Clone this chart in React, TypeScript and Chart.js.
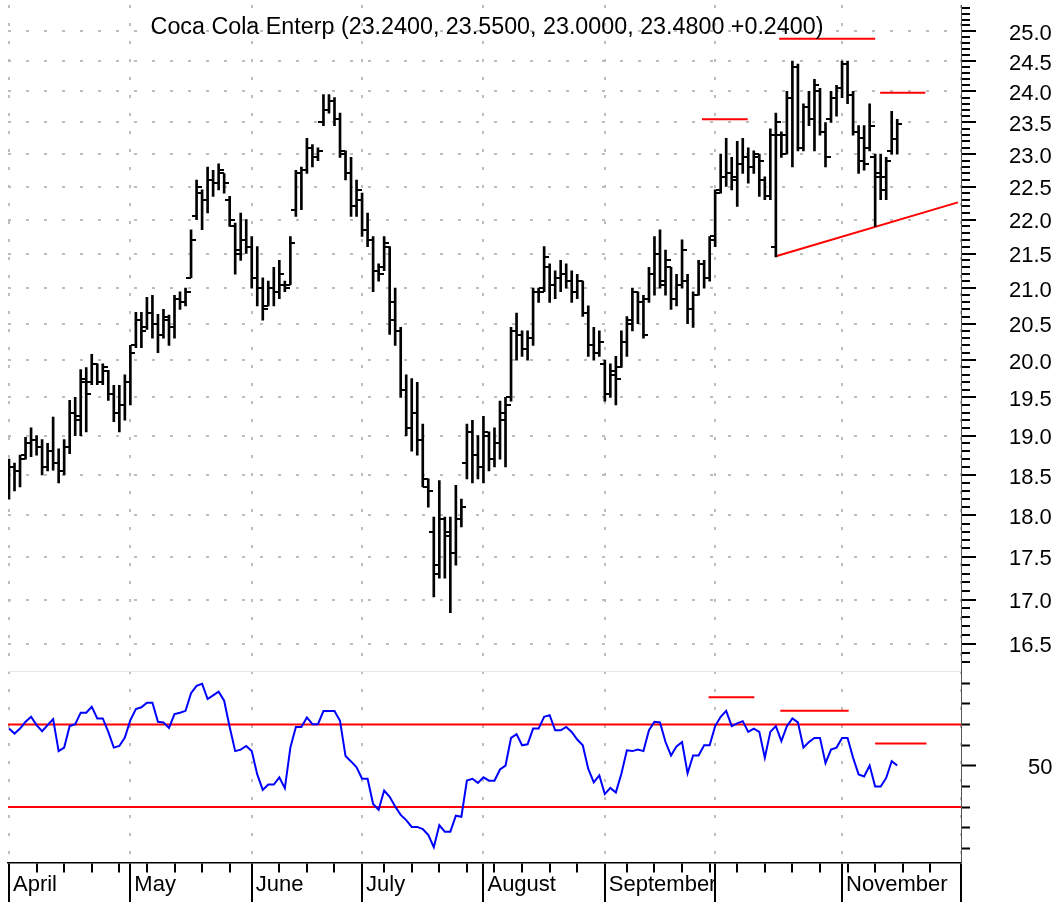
import React, { useEffect, useRef } from 'react';
import { Chart, registerables } from 'chart.js';

Chart.register(...registerables);

// ---------- data ----------
const titleName = 'Coca Cola Enterp';

// trading-day index of the first session of each month (Apr..Nov 2002)
const monthStarts = [0, 22, 44, 64, 86, 108, 128, 151];
const monthLabels = ['April', 'May', 'June', 'July', 'August', 'September', '', 'November'];
// first session of each week
const weekStarts = [5, 10, 15, 20, 25, 30, 35, 40, 49, 54, 59, 68, 73, 78, 83, 88, 93, 98, 103, 112, 117, 122, 127, 132, 137, 142, 147, 152, 157, 162, 167];

const opens = [
  18.30, 18.60, 18.55, 18.75, 18.90, 18.95, 18.85, 18.60, 18.80, 18.65,
  18.55, 18.85, 19.30, 19.20, 19.70, 19.70, 19.95, 19.70, 19.85, 19.55,
  19.30, 19.40, 19.70, 20.20, 20.55, 20.45, 20.65, 20.50, 20.35, 20.55,
  20.45, 20.85, 20.80, 21.15, 22.05, 22.40, 22.30, 22.60, 22.55, 22.70,
  22.30, 21.90, 21.50, 21.70, 21.60, 21.15, 21.00, 20.75, 21.00, 20.95,
  21.05, 21.05, 22.15, 22.70, 22.75, 23.10, 22.95, 23.50, 23.70, 23.85,
  23.55, 23.00, 22.70, 22.20, 22.30, 21.85, 21.70, 21.25, 21.30, 21.60,
  20.80, 20.40, 19.60, 19.10, 19.30, 18.95, 18.35, 17.80, 17.40, 17.95,
  17.80, 17.55, 17.95, 18.65, 19.05, 18.75, 18.60, 19.00, 18.70, 18.90,
  19.20, 19.50, 20.40, 20.35, 20.15, 20.30, 20.95, 21.00, 21.30, 21.05,
  21.15, 21.20, 21.10, 20.95, 21.10, 20.65, 20.20, 20.10, 19.95, 19.55,
  19.80, 19.90, 20.25, 20.55, 20.95, 20.80, 20.85, 21.20, 21.50, 21.10,
  21.30, 20.85, 21.05, 21.10, 20.70, 20.90, 21.35, 21.15, 21.75, 22.45,
  22.65, 22.70, 22.60, 22.85, 22.95, 22.80, 22.95, 22.60, 22.35, 21.60,
  23.30, 23.30, 23.90, 24.40, 23.10, 23.75, 23.55, 24.00, 23.35, 23.55,
  23.90, 24.05, 24.45, 23.95, 23.35, 23.25, 23.10, 22.95, 22.70, 22.45,
  23.05, 23.24,
];
const highs = [
  18.70, 18.65, 18.75, 18.98, 19.10, 19.00, 18.95, 18.90, 19.24, 18.83,
  18.95, 19.46, 19.50, 19.87, 19.90, 20.08, 19.95, 19.95, 19.86, 19.66,
  19.66, 19.80, 20.20, 20.66, 20.66, 20.87, 20.90, 20.63, 20.70, 20.62,
  20.90, 20.95, 21.00, 21.85, 22.60, 22.45, 22.80, 22.75, 22.85, 22.70,
  22.35, 21.95, 22.10, 22.00, 21.75, 21.60, 21.15, 21.10, 21.30, 21.40,
  21.10, 21.75, 22.75, 22.80, 23.25, 23.15, 23.10, 23.95, 23.95, 23.90,
  23.65, 23.05, 22.95, 22.60, 22.40, 22.10, 21.75, 21.35, 21.75, 21.60,
  21.00, 20.45, 19.80, 19.75, 19.70, 19.15, 18.45, 17.98, 18.43, 17.98,
  17.98, 18.37, 18.20, 19.15, 19.20, 19.00, 19.25, 19.05, 19.10, 19.45,
  19.50, 20.45, 20.65, 20.40, 20.40, 21.00, 21.00, 21.60, 21.35, 21.25,
  21.40, 21.35, 21.25, 21.20, 21.10, 20.75, 20.45, 20.40, 20.00, 19.95,
  20.05, 20.40, 20.60, 21.00, 20.95, 20.90, 21.30, 21.75, 21.85, 21.55,
  21.30, 21.20, 21.70, 21.20, 20.95, 21.40, 21.40, 21.75, 22.45, 23.00,
  23.25, 22.95, 23.20, 23.25, 23.10, 23.05, 23.00, 22.65, 23.40, 23.65,
  23.35, 24.00, 24.50, 24.45, 23.80, 24.00, 24.20, 24.05, 23.50, 24.00,
  24.10, 24.50, 24.50, 24.00, 23.45, 23.45, 23.80, 23.00, 23.00, 22.95,
  23.68, 23.55,
];
const lows = [
  18.20, 18.30, 18.35, 18.70, 18.73, 18.75, 18.50, 18.55, 18.56, 18.40,
  18.50, 18.77, 19.00, 19.00, 19.05, 19.67, 19.67, 19.67, 19.46, 19.18,
  19.05, 19.20, 19.40, 20.17, 20.17, 20.42, 20.30, 20.10, 20.30, 20.20,
  20.30, 20.70, 20.75, 21.15, 22.00, 21.85, 22.10, 22.35, 22.45, 22.40,
  21.90, 21.20, 21.40, 21.50, 21.00, 20.75, 20.55, 20.75, 20.75, 20.85,
  20.95, 21.05, 22.05, 22.15, 22.70, 22.80, 22.90, 23.45, 23.65, 23.45,
  22.95, 22.60, 22.05, 22.05, 21.75, 21.60, 20.95, 21.10, 21.25, 20.35,
  20.20, 19.50, 19.00, 18.80, 18.75, 18.35, 18.10, 17.03, 17.25, 17.25,
  16.85, 17.40, 17.86, 18.45, 18.40, 18.45, 18.40, 18.55, 18.60, 18.70,
  18.60, 19.45, 20.00, 20.05, 20.00, 20.20, 20.80, 20.95, 20.80, 20.85,
  20.95, 21.00, 20.80, 20.85, 20.60, 20.05, 20.00, 20.05, 19.45, 19.50,
  19.40, 19.90, 20.05, 20.40, 20.50, 20.30, 20.80, 20.90, 21.00, 20.90,
  20.70, 20.75, 21.00, 20.50, 20.45, 20.90, 21.00, 21.10, 21.60, 22.40,
  22.50, 22.45, 22.20, 22.70, 22.55, 22.70, 22.35, 22.30, 22.30, 21.45,
  22.95, 23.00, 22.80, 23.05, 23.05, 23.45, 23.05, 23.30, 22.80, 23.50,
  23.60, 23.90, 23.80, 23.30, 22.70, 22.75, 23.05, 21.90, 22.30, 22.30,
  23.00, 23.00,
];
const closes = [
  18.60, 18.55, 18.70, 18.90, 18.95, 18.85, 18.60, 18.80, 18.65, 18.55,
  18.85, 19.30, 19.25, 19.75, 19.55, 19.95, 19.70, 19.90, 19.55, 19.30,
  19.40, 19.70, 20.10, 20.55, 20.40, 20.65, 20.50, 20.35, 20.60, 20.45,
  20.85, 20.80, 20.95, 21.70, 22.50, 22.30, 22.60, 22.55, 22.75, 22.55,
  22.00, 21.55, 21.70, 21.60, 21.15, 21.00, 20.70, 21.00, 20.95, 21.20,
  21.00, 21.65, 22.70, 22.75, 23.10, 22.95, 23.05, 23.70, 23.85, 23.55,
  23.05, 22.70, 22.20, 22.45, 21.85, 21.70, 21.25, 21.20, 21.65, 20.55,
  20.40, 19.60, 19.10, 19.30, 18.95, 18.45, 18.30, 17.30, 17.95, 17.75,
  17.55, 17.95, 18.10, 19.05, 18.75, 18.60, 19.05, 18.70, 18.90, 19.30,
  19.40, 20.40, 20.35, 20.15, 20.30, 20.95, 20.95, 21.45, 21.05, 21.15,
  21.20, 21.10, 20.95, 21.10, 20.65, 20.20, 20.10, 20.25, 19.55, 19.85,
  19.75, 20.25, 20.50, 20.95, 20.80, 20.35, 21.20, 21.50, 21.05, 21.40,
  20.85, 21.05, 21.55, 20.70, 20.90, 21.35, 21.15, 21.70, 22.40, 22.65,
  22.70, 22.65, 22.85, 22.95, 22.80, 23.00, 22.90, 22.35, 23.30, 23.50,
  23.00, 23.90, 24.40, 23.10, 23.75, 23.55, 24.10, 23.35, 22.95, 23.90,
  24.05, 24.45, 23.95, 23.35, 22.90, 22.85, 23.45, 22.65, 22.65, 22.90,
  23.24, 23.48,
];
const rsiValues = [
  68.0, 65.6, 68.0, 71.3, 73.7, 69.7, 66.7, 69.7, 72.6, 57.1,
  58.8, 69.2, 70.1, 75.7, 75.7, 78.6, 72.9, 72.9, 66.4, 58.8,
  59.6, 63.7, 72.1, 77.5, 78.3, 80.5, 80.5, 71.3, 71.0, 68.3,
  75.0, 75.7, 76.6, 85.1, 88.7, 89.7, 82.3, 84.1, 85.9, 81.5,
  68.8, 57.1, 57.8, 59.6, 57.1, 45.8, 38.3, 40.9, 40.9, 44.4,
  39.1, 58.8, 68.8, 68.8, 73.4, 70.1, 70.1, 76.5, 76.5, 76.5,
  71.8, 54.7, 52.1, 49.3, 43.7, 43.7, 31.5, 28.7, 38.0, 35.0,
  30.3, 26.2, 23.7, 20.4, 20.4, 19.3, 16.5, 10.6, 21.2, 18.1,
  18.1, 25.8, 25.3, 42.8, 43.7, 41.7, 44.4, 42.8, 42.8, 48.2,
  50.1, 63.5, 65.3, 59.9, 60.4, 68.0, 68.0, 73.7, 74.5, 67.2,
  67.2, 68.8, 66.4, 62.7, 59.9, 48.5, 42.0, 45.3, 36.3, 39.3,
  37.1, 46.1, 57.5, 57.1, 57.8, 57.1, 67.2, 71.3, 71.0, 61.5,
  55.0, 59.4, 61.5, 46.4, 55.0, 55.0, 59.9, 59.9, 69.2, 73.7,
  76.6, 69.2, 70.5, 71.6, 66.4, 68.0, 66.4, 53.9, 66.4, 69.2,
  61.9, 69.2, 72.9, 71.0, 58.8, 61.5, 63.5, 63.5, 51.3, 57.8,
  58.8, 63.5, 63.5, 53.9, 45.8, 44.8, 50.1, 39.9, 39.9, 44.1,
  52.2, 50.1,
];
const rsiBands = [70, 30];

// hand-drawn study lines (index, value)
const priceLevels = [
  { from: 125.6, to: 133.9, value: 23.55 },
  { from: 139.6, to: 157.0, value: 24.875 },
  { from: 157.9, to: 166.1, value: 23.98 },
];
const priceTrend = [
  { x: 139.0, y: 21.46 },
  { x: 172.0, y: 22.26 },
];
const rsiLevels = [
  { from: 126.8, to: 135.1, value: 83.2 },
  { from: 139.8, to: 152.2, value: 76.6 },
  { from: 157.0, to: 166.3, value: 60.8 },
];

// axis extents
const xMin = -0.18;
const xMax = 172.56;
const priceMin = 16.193;
const priceMax = 25.45;
const rsiMin = 2.91;
const rsiMax = 95.78;
const rsiTickValues = [10, 20, 30, 40, 50, 60, 70, 80, 90];
const rsiLabelled = [50];

// ---------- helpers ----------
const FONT = '"Liberation Sans", Arial, Helvetica, sans-serif';
const GRID = '#bdbdbd';

function near(a: number, b: number) {
  return Math.abs(a - b) < 1e-6;
}
function isMajorPrice(v: number) {
  return Math.abs(v * 2 - Math.round(v * 2)) < 1e-6 && v >= 16.49 && v <= 25.01;
}
function tickImage(side: 'left' | 'right') {
  const c = document.createElement('canvas');
  c.width = 10;
  c.height = 2;
  const g = c.getContext('2d')!;
  g.fillStyle = '#000';
  if (side === 'left') g.fillRect(0, 0, 5, 2);
  else g.fillRect(5, 0, 5, 2);
  return c;
}
function noPad(s: any) {
  s.paddingTop = 0;
  s.paddingBottom = 0;
  s.paddingLeft = 0;
  s.paddingRight = 0;
}

export default function App() {
  const ref = useRef<HTMLCanvasElement>(null);

  useEffect(() => {
    const canvas = ref.current;
    if (!canvas) return;

    const last = closes.length - 1;
    const change = closes[last] - closes[last - 1];
    const titleText = `${titleName} (${opens[last].toFixed(4)}, ${highs[last].toFixed(4)}, ${lows[last].toFixed(4)}, ${closes[last].toFixed(4)} ${change >= 0 ? '+' : ''}${change.toFixed(4)})`;

    const xTicks = Array.from(new Set([...monthStarts, ...weekStarts, xMax])).sort((a, b) => a - b);
    const isLongX = (v: number) => monthStarts.some((m) => near(m, v)) || near(v, xMax);

    const priceTicks: number[] = [];
    for (let k = 163; k <= 254; k++) priceTicks.push(k / 10);

    const openImg = tickImage('left');
    const closeImg = tickImage('right');

    const redLine = (data: { x: number; y: number }[], axis: string) => ({
      type: 'line' as const,
      data,
      yAxisID: axis,
      borderColor: '#ff0000',
      borderWidth: 2,
      pointRadius: 0,
      tension: 0,
      fill: false,
    });

    const datasets: any[] = [
      {
        type: 'line',
        data: opens.map((o, i) => ({ x: i, y: o })),
        yAxisID: 'y',
        showLine: false,
        pointStyle: openImg,
        pointRadius: 3,
      },
      {
        type: 'line',
        data: closes.map((c, i) => ({ x: i, y: c })),
        yAxisID: 'y',
        showLine: false,
        pointStyle: closeImg,
        pointRadius: 3,
      },
      {
        type: 'bar',
        data: highs.map((h, i) => ({ x: i, y: [lows[i], h] })),
        yAxisID: 'y',
        backgroundColor: '#000',
        borderWidth: 0,
        barThickness: 2,
      },
      ...priceLevels.map((l) => redLine([{ x: l.from, y: l.value }, { x: l.to, y: l.value }], 'y')),
      redLine(priceTrend, 'y'),
      {
        type: 'line',
        data: rsiValues.map((r, i) => ({ x: i, y: r })),
        yAxisID: 'y2',
        borderColor: '#0000ff',
        borderWidth: 2,
        pointRadius: 0,
        tension: 0,
        fill: false,
      },
      ...rsiBands.map((b) => redLine([{ x: xMin, y: b }, { x: xMax, y: b }], 'y2')),
      ...rsiLevels.map((l) => redLine([{ x: l.from, y: l.value }, { x: l.to, y: l.value }], 'y2')),
    ];

    const titlePlugin = {
      id: 'innerTitle',
      afterDraw(chart: any) {
        const c = chart.ctx;
        c.save();
        c.font = `23.3px ${FONT}`;
        c.fillStyle = '#000';
        c.textAlign = 'center';
        c.textBaseline = 'alphabetic';
        c.fillText(titleText, 487, 33.5);
        c.restore();
      },
    };

    const chart = new Chart(canvas, {
      type: 'line',
      data: { datasets },
      plugins: [titlePlugin],
      options: {
        responsive: false,
        animation: false,
        devicePixelRatio: 1,
        events: [],
        layout: { padding: { left: 8, top: 4, right: 0, bottom: 0 } },
        plugins: { legend: { display: false }, tooltip: { enabled: false }, title: { display: false } },
        scales: {
          x: {
            type: 'linear',
            position: 'bottom',
            min: xMin,
            max: xMax,
            offset: false,
            afterBuildTicks: (s: any) => {
              s.ticks = xTicks.map((v) => ({ value: v }));
            },
            afterFit: (s: any) => {
              s.height = 39;
              noPad(s);
            },
            ticks: {
              autoSkip: false,
              maxRotation: 0,
              minRotation: 0,
              align: 'start',
              labelOffset: 4,
              padding: -30,
              color: '#000',
              font: { family: FONT, size: 22 },
              callback: (v: any) => {
                const k = monthStarts.findIndex((m) => near(m, Number(v)));
                return k >= 0 ? monthLabels[k] : '';
              },
            },
            grid: {
              offset: false,
              drawOnChartArea: true,
              drawTicks: true,
              tickLength: 39,
              color: (ctx: any) => (ctx.tick && isLongX(ctx.tick.value) ? GRID : 'rgba(0,0,0,0)'),
              lineWidth: 2,
              tickColor: '#000',
              tickWidth: 2,
              tickBorderDash: (ctx: any) => (ctx.tick && isLongX(ctx.tick.value) ? [] : [9, 200]),
            },
            border: { display: true, color: '#000', width: 1.5, dash: [3, 15] },
          },
          y: {
            type: 'logarithmic',
            position: 'right',
            stack: 'panels',
            stackWeight: 667,
            min: priceMin,
            max: priceMax,
            beginAtZero: false,
            afterBuildTicks: (s: any) => {
              s.ticks = priceTicks.map((v) => ({ value: v }));
            },
            afterFit: (s: any) => {
              s.width = 100;
              noPad(s);
            },
            ticks: {
              autoSkip: false,
              padding: 33,
              labelOffset: 2.5,
              crossAlign: 'near',
              color: '#000',
              font: { family: FONT, size: 22 },
              callback: (v: any) => (isMajorPrice(Number(v)) ? Number(v).toFixed(1) : ''),
            },
            grid: {
              drawOnChartArea: true,
              drawTicks: true,
              tickLength: 15,
              color: (ctx: any) => (ctx.tick && isMajorPrice(ctx.tick.value) ? GRID : 'rgba(0,0,0,0)'),
              lineWidth: 2,
              tickColor: '#000',
              tickWidth: 2,
              tickBorderDash: (ctx: any) => (ctx.tick && isMajorPrice(ctx.tick.value) ? [] : [8, 200]),
            },
            border: { display: true, color: '#555', width: 1, dash: [3, 15] },
          },
          y2: {
            type: 'linear',
            position: 'right',
            stack: 'panels',
            stackWeight: 192,
            min: rsiMin,
            max: rsiMax,
            beginAtZero: false,
            afterBuildTicks: (s: any) => {
              s.ticks = [...rsiTickValues, rsiMax].map((v) => ({ value: v }));
            },
            afterFit: (s: any) => {
              s.width = 100;
              noPad(s);
            },
            ticks: {
              autoSkip: false,
              padding: 52,
              labelOffset: 2.5,
              crossAlign: 'near',
              color: '#000',
              font: { family: FONT, size: 22 },
              callback: (v: any) => (rsiLabelled.includes(Number(v)) ? String(v) : ''),
            },
            grid: {
              drawOnChartArea: true,
              drawTicks: true,
              tickLength: 15,
              color: (ctx: any) => (ctx.tick && near(ctx.tick.value, rsiMax) ? '#e6e6e6' : 'rgba(0,0,0,0)'),
              lineWidth: 1,
              tickColor: (ctx: any) => (ctx.tick && near(ctx.tick.value, rsiMax) ? 'rgba(0,0,0,0)' : '#000'),
              tickWidth: 2,
              tickBorderDash: (ctx: any) => (ctx.tick && rsiLabelled.includes(ctx.tick.value) ? [] : [8, 200]),
            },
            border: { display: true, color: '#555', width: 1, dash: [] },
          },
        },
      } as any,
    });

    return () => chart.destroy();
  }, []);

  return (
    <div style={{ position: 'absolute', left: 0, top: 0, width: 1061, height: 902, background: '#fff' }}>
      <canvas ref={ref} width={1061} height={902} style={{ display: 'block', width: 1061, height: 902 }} />
    </div>
  );
}
